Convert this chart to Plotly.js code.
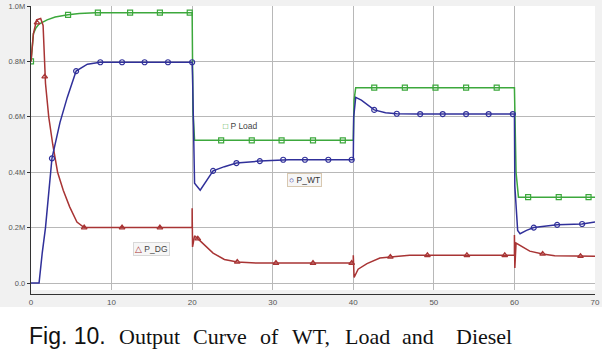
<!DOCTYPE html>
<html>
<head>
<meta charset="utf-8">
<script src="https://cdn.plot.ly/plotly-3.0.1.min.js"></script>
<style>html,body{margin:0;padding:0;background:#fff;}#chart{width:602px;height:358px;}</style>
</head>
<body>
<div id="chart"></div>
<script>
// ---- data (time in s, power in MW) ----
const loadT = [0, 0.3, 0.6, 1, 2, 3, 4.6, 6, 8, 20, 20.1, 20.3, 40, 40.1, 40.3, 60, 60.2, 60.5, 70];
const loadV = [0.8, 0.9, 0.92, 0.935, 0.95, 0.96, 0.968, 0.973, 0.976, 0.976, 0.62, 0.515, 0.515, 0.66, 0.705, 0.705, 0.4, 0.31, 0.31];
const loadMarkT = [0, 4.6, 8.3, 12.3, 16, 19.7, 23.6, 27.4, 31.1, 35, 38.7, 42.6, 46.4, 50.2, 54, 57.8, 61.7, 65.5, 69.2];
const loadMarkV = [0.8, 0.968, 0.976, 0.976, 0.976, 0.976, 0.515, 0.515, 0.515, 0.515, 0.515, 0.705, 0.705, 0.705, 0.705, 0.705, 0.31, 0.31, 0.31];

const wtT = [0, 1.0, 1.4, 1.8, 2.6, 3.0, 3.6, 4.5, 5.6, 7, 8.6, 20, 20.05, 20.3, 21, 22.6, 24, 25.5, 28.4, 32, 40, 40.05, 40.3, 41, 42.6, 44, 45.4, 48, 52, 60, 60.05, 60.4, 60.7, 61.5, 62.4, 64, 65.3, 68.4, 70];
const wtV = [0, 0, 0.11, 0.2, 0.45, 0.5, 0.58, 0.67, 0.765, 0.79, 0.797, 0.797, 0.75, 0.36, 0.335, 0.405, 0.42, 0.433, 0.44, 0.445, 0.445, 0.6, 0.67, 0.66, 0.625, 0.615, 0.611, 0.61, 0.61, 0.61, 0.35, 0.19, 0.178, 0.19, 0.2, 0.206, 0.21, 0.213, 0.22];
const wtMarkT = [2.6, 5.6, 8.6, 11.3, 14.1, 17, 20, 22.6, 25.5, 28.4, 31.3, 34, 36.9, 39.8, 42.6, 45.4, 48.3, 51.1, 54, 56.8, 59.8, 62.4, 65.3, 68.4];
const wtMarkV = [0.45, 0.765, 0.797, 0.797, 0.797, 0.797, 0.797, 0.405, 0.433, 0.44, 0.445, 0.445, 0.445, 0.445, 0.625, 0.611, 0.61, 0.61, 0.61, 0.61, 0.61, 0.2, 0.21, 0.213];

const dgT = [0, 0.3, 0.7, 1.2, 1.5, 1.8, 2.2, 2.7, 3.3, 4, 4.8, 5.7, 6.6, 8, 20, 20, 20.05, 20.3, 20.7, 22.6, 24, 25.6, 28, 40, 40, 40.1, 40.6, 41.7, 43.3, 44.6, 47, 60, 60, 60.05, 60.2, 61, 61.9, 63.5, 65, 70];
const dgV = [0.8, 0.9, 0.95, 0.955, 0.93, 0.72, 0.6, 0.5, 0.4, 0.335, 0.275, 0.22, 0.2, 0.2, 0.2, 0.27, 0.13, 0.17, 0.16, 0.108, 0.085, 0.076, 0.072, 0.072, 0.1, 0.02, 0.05, 0.07, 0.09, 0.094, 0.1, 0.1, 0.173, 0.054, 0.144, 0.13, 0.115, 0.105, 0.098, 0.097];
const dgMarkT = [0.75, 1.7, 6.6, 11.3, 16, 20.7, 25.6, 30.4, 35, 39.8, 44.6, 49.2, 54.1, 58.8, 63.5, 68.2];
const dgMarkV = [0.94, 0.745, 0.2, 0.2, 0.2, 0.16, 0.076, 0.072, 0.072, 0.072, 0.094, 0.1, 0.1, 0.1, 0.105, 0.097];

const xTicks = [0, 10, 20, 30, 40, 50, 60, 70];
const yTickVals = [0, 0.2, 0.4, 0.6, 0.8, 1.0];
const yTickText = ['0.0', '0.2M', '0.4M', '0.6M', '0.8M', '1.0M'];

const captionSans = ['Fig. 10.'];
const captionSerif = ['Output', 'Curve', 'of', 'WT,', 'Load', 'and', 'Diesel'];

const cLoad = '#3ca83c', cWT = '#30309a', cDG = '#a83434';

function line(x, y, c) {
  return {x: x, y: y, mode: 'lines', line: {color: c, width: 1.5}, hoverinfo: 'skip', showlegend: false};
}
function marks(x, y, c, sym) {
  return {x: x, y: y, mode: 'markers', marker: {symbol: sym, size: 5, color: c, line: {color: c, width: 1.2}}, hoverinfo: 'skip', showlegend: false};
}

const traces = [
  line(loadT, loadV, cLoad), marks(loadMarkT, loadMarkV, cLoad, 'square-open'),
  line(dgT, dgV, cDG), marks(dgMarkT, dgMarkV, cDG, 'triangle-up-open'),
  line(wtT, wtV, cWT), marks(wtMarkT, wtMarkV, cWT, 'circle-open')
];

const PW = 564, PH = 288; // plot area size in px
const yBottom = -0.0397;
const captionY = -(336 - 294) / PH;
const sansX = [27];
const serifX = [117, 191, 258, 290, 343, 400, 454];

const annotations = [
  {xref: 'x', yref: 'y', x: 23.6, y: 0.567, xanchor: 'left', yanchor: 'middle', showarrow: false,
   text: '<span style="color:' + cLoad + '">□</span> P Load', font: {size: 8.5, color: '#444'}},
  {xref: 'x', yref: 'y', x: 31.8, y: 0.372, xanchor: 'left', yanchor: 'middle', showarrow: false,
   text: '<span style="color:' + cWT + '">○</span> P_WT', font: {size: 8.5, color: '#333'},
   bgcolor: '#f6f6f6', bordercolor: '#d8c8b0', borderwidth: 1, borderpad: 1},
  {xref: 'x', yref: 'y', x: 12.6, y: 0.123, xanchor: 'left', yanchor: 'middle', showarrow: false,
   text: '<span style="color:' + cDG + '">△</span> P_DG', font: {size: 8.5, color: '#444'},
   bgcolor: '#f6f6f6', bordercolor: '#d8d8d8', borderwidth: 1, borderpad: 1}
];
captionSans.forEach(function (w, i) {
  annotations.push({xref: 'paper', yref: 'paper', x: (sansX[i] - 31) / PW, y: captionY, xanchor: 'left', yanchor: 'middle',
    showarrow: false, text: w, font: {family: 'Arial, "Liberation Sans", sans-serif', size: 23, color: '#111'}});
});
captionSerif.forEach(function (w, i) {
  annotations.push({xref: 'paper', yref: 'paper', x: (serifX[i] - 31) / PW, y: captionY, xanchor: 'left', yanchor: 'middle',
    showarrow: false, text: w, font: {family: '"Times New Roman", "Liberation Serif", serif', size: 22, color: '#111'}});
});

const layout = {
  width: 602, height: 358,
  margin: {l: 31, r: 7, t: 6, b: 64},
  paper_bgcolor: '#f1f1f1', plot_bgcolor: '#ffffff',
  font: {family: 'Arial, "Liberation Sans", sans-serif', size: 8, color: '#444'},
  xaxis: {
    range: [0, 70], tickvals: xTicks, ticktext: xTicks.map(String),
    showgrid: true, gridcolor: '#b8b8b8', gridwidth: 1, zeroline: false,
    showline: true, linecolor: '#333', linewidth: 1.2,
    ticks: 'inside', ticklen: 4, tickcolor: '#333', tickfont: {size: 8, color: '#555'}
  },
  yaxis: {
    range: [yBottom, 1.0], tickvals: yTickVals, ticktext: yTickText,
    showgrid: true, gridcolor: '#b8b8b8', gridwidth: 1, zeroline: false,
    showline: true, linecolor: '#333', linewidth: 1.2,
    ticks: 'outside', ticklen: 3, tickcolor: '#333', tickfont: {size: 7.5, color: '#555'}
  },
  shapes: [
    {type: 'rect', xref: 'x', yref: 'y', x0: 0, x1: 70, y0: yBottom, y1: -0.0253, fillcolor: '#f1f1f1', line: {width: 0}, layer: 'above'},
    {type: 'rect', xref: 'paper', yref: 'paper', x0: -0.2, x1: 1.2, y0: -1, y1: -13 / PH, fillcolor: '#ffffff', line: {width: 0}, layer: 'below'}
  ],
  annotations: annotations
};

Plotly.newPlot('chart', traces, layout, {staticPlot: true, displayModeBar: false});
</script>
</body>
</html>
